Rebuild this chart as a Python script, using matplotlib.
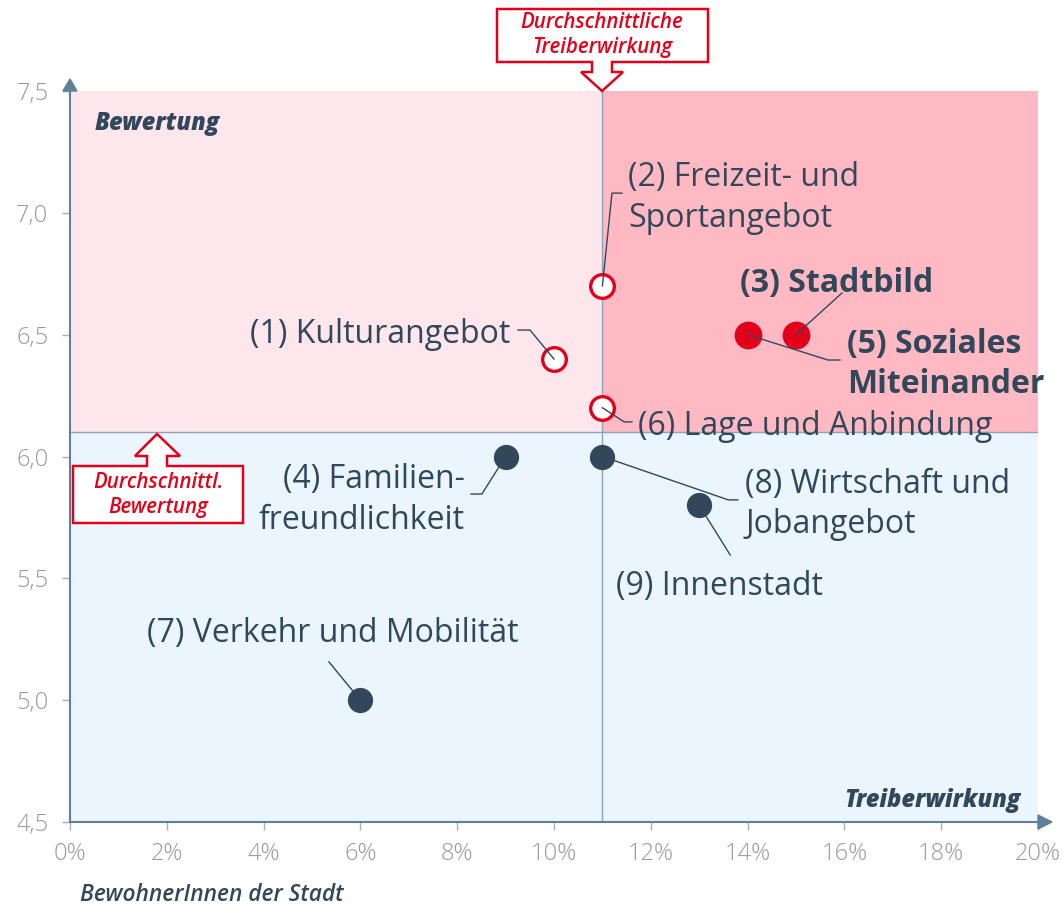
import matplotlib
matplotlib.use("Agg")
import matplotlib.pyplot as plt
from matplotlib.patches import Polygon

plt.rcParams['font.family'] = ['Open Sans', 'DejaVu Sans']

# ---------------- data ----------------
labels = ["(1) Kulturangebot", "(2) Freizeit- und\nSportangebot", "(3) Stadtbild",
          "(4) Familien-\nfreundlichkeit", "(5) Soziales\nMiteinander",
          "(6) Lage und Anbindung", "(7) Verkehr und Mobilität",
          "(8) Wirtschaft und\nJobangebot", "(9) Innenstadt"]
treiberwirkung = [10, 11, 15, 9, 14, 11, 6, 11, 13]          # %
bewertung = [6.4, 6.7, 6.5, 6.0, 6.5, 6.2, 5.0, 6.0, 5.8]
avg_treiber = 11
avg_bewertung = 6.1
x_ticks = [0, 2, 4, 6, 8, 10, 12, 14, 16, 18, 20]
y_ticks = [4.5, 5.0, 5.5, 6.0, 6.5, 7.0, 7.5]

# ---------------- styling / layout ----------------
W, H = 1063, 905
RED = '#e2001a'
DARK = '#33475a'
AXC = '#5f7f9a'

# label placement (data coords) : (x, y, ha, bold)
label_pos = [(9.09, 6.499, 'right', False),
             (11.53, 7.061, 'left', False),
             (13.84, 6.712, 'left', True),
             (8.16, 5.822, 'right', False),
             (16.05, 6.378, 'left', True),
             (11.74, 6.125, 'left', False),
             (1.59, 5.272, 'left', False),
             (13.95, 5.803, 'left', False),
             (11.28, 5.465, 'left', False)]
# leader line bend points (data coords), end at the point
leaders = [[(9.256, 6.519), (9.504, 6.519)],
           [(11.405, 7.081), (11.198, 7.081)],
           [(15.95, 6.671)],
           [(8.285, 5.846), (8.51, 5.846)],
           [(15.91, 6.396), (15.66, 6.396)],
           [(11.61, 6.142), (11.45, 6.142)],
           [(5.35, 5.157)],
           [(13.80, 5.822), (13.60, 5.822)],
           [(13.64, 5.596)]]

fig = plt.figure(figsize=(W / 100, H / 100), dpi=100)
ax = fig.add_axes([70 / W, 1 - 822 / H, 968 / W, 731 / H])
ax.set_xlim(0, 20)
ax.set_ylim(4.5, 7.5)

# quadrant backgrounds
ax.axhspan(4.5, avg_bewertung, color='#eaf5fe', zorder=0, lw=0)
ax.fill_between([0, avg_treiber], avg_bewertung, 7.5, color='#fde7ec', zorder=0, lw=0)
ax.fill_between([avg_treiber, 20], avg_bewertung, 7.5, color='#ffb9c3', zorder=0, lw=0)
ax.axvline(avg_treiber, color='#8ea3b9', lw=1, zorder=1)
ax.axhline(avg_bewertung, color='#8ea3b9', lw=1, zorder=1)

# points
for x, y in zip(treiberwirkung, bewertung):
    if y > avg_bewertung and x > avg_treiber:
        ax.scatter(x, y, s=400, color=RED, zorder=3, lw=0)
    elif y > avg_bewertung:
        ax.scatter(x, y, s=290, facecolor='white', edgecolor=RED, lw=2.4, zorder=3)
    else:
        ax.scatter(x, y, s=330, color=DARK, zorder=3, lw=0)

# labels and leader lines
for lab, (lx, ly, ha, bold), pts, x, y in zip(labels, label_pos, leaders, treiberwirkung, bewertung):
    ax.text(lx, ly, lab, ha=ha, va='center', fontsize=23, color=DARK,
            fontweight='bold' if bold else 'normal', linespacing=1.3, zorder=5)
    xs = [p[0] for p in pts] + [x]
    ys = [p[1] for p in pts] + [y]
    ax.plot(xs, ys, color=DARK, lw=1, zorder=4)

# axes styling
for s in ['top', 'right']:
    ax.spines[s].set_visible(False)
for s in ['left', 'bottom']:
    ax.spines[s].set_color(AXC)
    ax.spines[s].set_linewidth(1.5)
    ax.spines[s].set_zorder(6)
ax.set_xticks(x_ticks)
ax.set_xticklabels([f"{v}%" for v in x_ticks])
ax.set_yticks(y_ticks)
ax.set_yticklabels([f"{v:.1f}".replace('.', ',') for v in y_ticks])
ax.tick_params(axis='both', colors='#9fb1c2', labelcolor='#9a9a9a', labelsize=17,
               length=5.5, width=1)
ax.tick_params(axis='x', pad=9)
ax.tick_params(axis='y', pad=10)
for lbl in ax.get_xticklabels() + ax.get_yticklabels():
    lbl.set_fontweight('light')

# axis arrows
ax.add_patch(Polygon([(0 - 7 / 968, 1), (0 + 7 / 968, 1), (0, 1 + 12 / 731)], closed=True,
                     transform=ax.transAxes, clip_on=False, color=AXC, zorder=7))
ax.add_patch(Polygon([(1, -7 / 731), (1, 7 / 731), (1 + 14 / 968, 0)], closed=True,
                     transform=ax.transAxes, clip_on=False, color=AXC, zorder=7))

ax.text(95 / W, 1 - 123 / H, "Bewertung", transform=fig.transFigure, fontsize=17,
        fontweight='heavy', style='italic', color=DARK, va='center', ha='left')
ax.text(1020 / W, 1 - 800 / H, "Treiberwirkung", transform=fig.transFigure, fontsize=17,
        fontweight='heavy', style='italic', color=DARK, va='center', ha='right')
ax.text(80 / W, 1 - 895 / H, "BewohnerInnen der Stadt", transform=fig.transFigure,
        fontsize=16.4, fontweight='semibold', style='italic', color=DARK, va='center', ha='left')

# callouts (pixel geometry)
def px(pts):
    return [(x / W, 1 - y / H) for x, y in pts]

top_call = [(497, 9), (708, 9), (708, 62), (612, 62), (612, 72), (623, 72), (602, 91),
            (581, 72), (592, 72), (592, 62), (497, 62)]
fig.patches.append(Polygon(px(top_call), closed=True, transform=fig.transFigure,
                           facecolor='white', edgecolor=RED, lw=1.8, zorder=10))
fig.text(602 / W, 1 - 35 / H, "Durchschnittliche\nTreiberwirkung", ha='center', va='center',
         fontsize=14.8, fontweight='semibold', style='italic', color=RED, linespacing=1.2,
         zorder=11)

left_call = [(73, 466), (147, 466), (147, 456), (135, 456), (157, 434), (180, 456),
             (167, 456), (167, 466), (243, 466), (243, 523), (73, 523)]
fig.patches.append(Polygon(px(left_call), closed=True, transform=fig.transFigure,
                           facecolor='white', edgecolor=RED, lw=1.8, zorder=10))
fig.text(158 / W, 1 - 495 / H, "Durchschnittl.\nBewertung", ha='center', va='center',
         fontsize=14.8, fontweight='semibold', style='italic', color=RED, linespacing=1.2,
         zorder=11)

fig.savefig("out.png", dpi=100)
